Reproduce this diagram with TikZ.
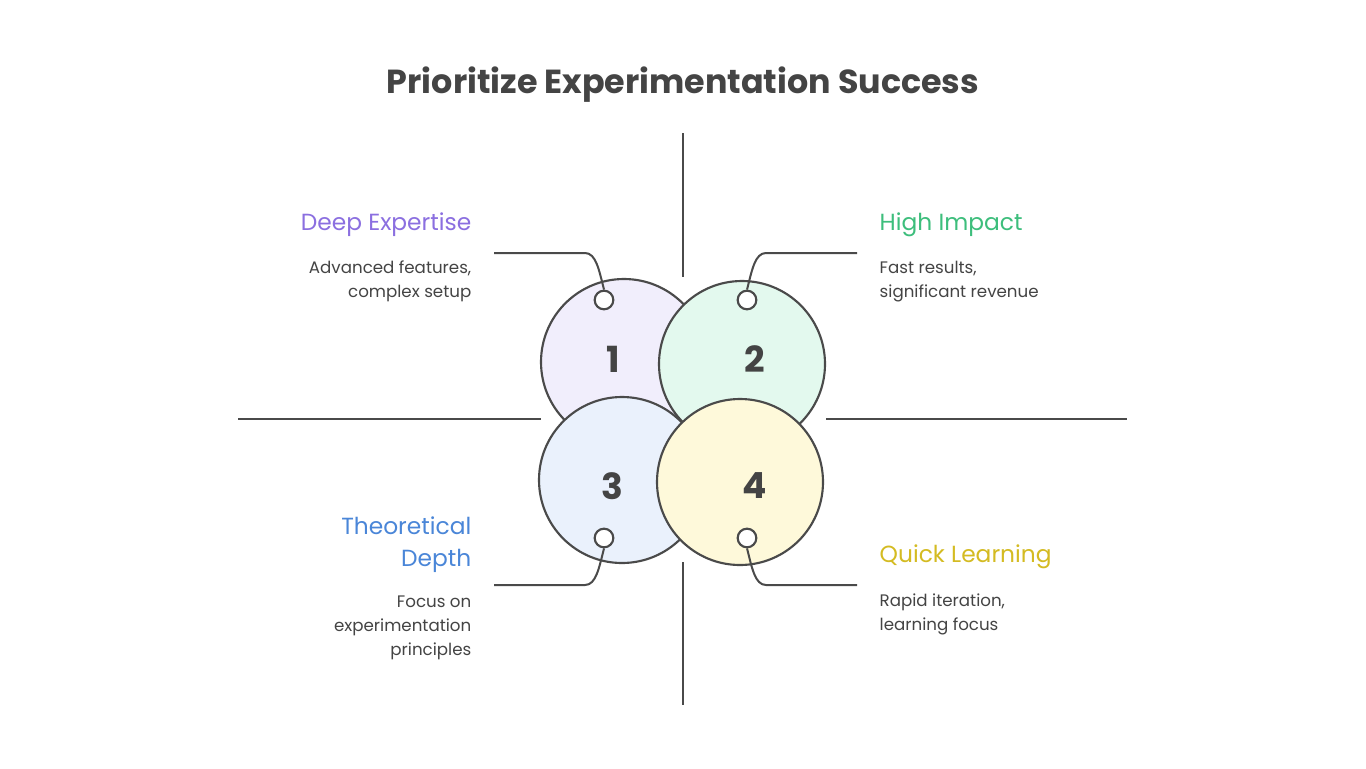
\documentclass[tikz,border=0pt]{standalone}
\usepackage{fontspec}
\setmainfont{Poppins}
\definecolor{ink}{HTML}{444444}
\definecolor{lc}{HTML}{4A4A4A}
\definecolor{c1}{HTML}{F1EEFC}
\definecolor{c2}{HTML}{E3F9EE}
\definecolor{c3}{HTML}{EAF1FC}
\definecolor{c4}{HTML}{FEF9DA}
\definecolor{t1}{HTML}{8B6FE0}
\definecolor{t2}{HTML}{3DBE7C}
\definecolor{t3}{HTML}{4A86D8}
\definecolor{t4}{HTML}{D4BB22}
\begin{document}
\begin{tikzpicture}[x=0.75pt,y=-0.75pt,
  ring/.style={draw=lc,line width=1.6pt},
  ln/.style={draw=lc,line width=1.5pt},
  num/.style={font=\fontsize{27}{30}\selectfont\bfseries,text=ink},
  head/.style={font=\fontsize{17.5}{20}\selectfont},
  body/.style={font=\fontsize{12.5}{18}\selectfont,text=ink}]
\useasboundingbox[fill=white] (0,0) rectangle (1366,768);
\node[font=\fontsize{25}{28}\selectfont\bfseries,text=ink] (title) at (683,85) {Prioritize Experimentation Success};
% axes
\draw[ln] (683,133) -- (683,277);
\draw[ln] (683,562) -- (683,705);
\draw[ln] (238,419) -- (541,419);
\draw[ln] (826,419) -- (1127,419);
% circles
\draw[ring,fill=c1] (624,362) circle (83);
\draw[ring,fill=c2] (742,364) circle (83);
\draw[ring,fill=c3] (622,480) circle (83);
\draw[ring,fill=c4] (740,482) circle (83);
\node[num] (n1) at (613,359) {1};
\node[num] (n2) at (755,359) {2};
\node[num] (n3) at (612,486) {3};
\node[num] (n4) at (755,486) {4};
% connectors
\node[ring,circle,fill=white,inner sep=0pt,minimum size=14] (d1) at (604,300) {};
\node[ring,circle,fill=white,inner sep=0pt,minimum size=14] (d2) at (747,300) {};
\node[ring,circle,fill=white,inner sep=0pt,minimum size=14] (d3) at (604,538) {};
\node[ring,circle,fill=white,inner sep=0pt,minimum size=14] (d4) at (747,538) {};
\coordinate (e1) at (494,253);
\coordinate (e2) at (857,253);
\coordinate (e3) at (494,585);
\coordinate (e4) at (857,585);
\draw[ln] (d1.north) .. controls (599,270) and (596,253) .. (585,253) -- (e1);
\draw[ln] (d2.north) .. controls (752,270) and (755,253) .. (766,253) -- (e2);
\draw[ln] (d3.south) .. controls (599,568) and (596,585) .. (585,585) -- (e3);
\draw[ln] (d4.south) .. controls (752,568) and (755,585) .. (766,585) -- (e4);
% texts
\node[head,text=t1,anchor=east] (h1) at (476,225) {Deep Expertise};
\node[body,anchor=north east,align=right] (b1) at (476,256) {Advanced features,\\complex setup};
\node[head,text=t2,anchor=west] (h2) at (875,225) {High Impact};
\node[body,anchor=north west,align=left] (b2) at (875,256) {Fast results,\\significant revenue};
\node[head,text=t3,anchor=east,align=right,font=\fontsize{17.5}{24}\selectfont] (h3) at (476,545) {Theoretical\\Depth};
\node[body,anchor=north east,align=right] (b3) at (476,591) {Focus on\\experimentation\\principles};
\node[head,text=t4,anchor=west] (h4) at (875,557) {Quick Learning};
\node[body,anchor=north west,align=left] (b4) at (875,589) {Rapid iteration,\\learning focus};
\end{tikzpicture}
\end{document}
